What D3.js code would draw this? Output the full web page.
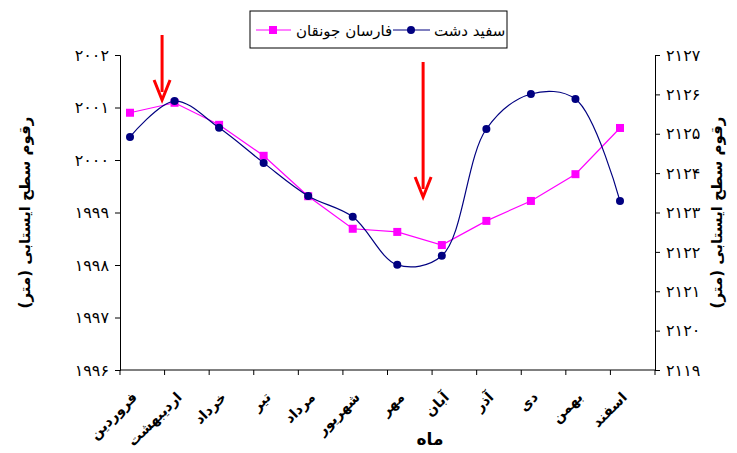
<!DOCTYPE html>
<html>
<head>
<meta charset="utf-8" />
<script src="https://cdn.jsdelivr.net/npm/d3@7"></script>
<style>
body { margin: 0; background: #fff; }
text { font-family: "DejaVu Sans", "Noto Sans", sans-serif; }
</style>
</head>
<body>
<script>
var months = ["فروردین", "اردیبهشت", "خرداد", "تیر", "مرداد", "شهریور", "مهر", "آبان", "آذر", "دی", "بهمن", "اسفند"];
var farsan = [2000.90, 2001.09, 2000.67, 2000.08, 1999.31, 1998.69, 1998.63, 1998.38, 1998.84, 1999.22, 1999.73, 2000.61];
var sefid = [2124.92, 2125.83, 2125.15, 2124.26, 2123.42, 2122.89, 2121.67, 2121.90, 2125.12, 2126.01, 2125.88, 2123.29];
var leftTicks = [1996, 1997, 1998, 1999, 2000, 2001, 2002];
var rightTicks = [2119, 2120, 2121, 2122, 2123, 2124, 2125, 2126, 2127];
// arrow positions in month-index units
var arrows = [{pos: 0.72, y0: 35, y1: 100}, {pos: 6.58, y0: 62, y1: 197}];

var W = 737, H = 453, pLeft = 120, pRight = 655, pTop = 55, pBottom = 370;
function fa(n) { return String(n).replace(/\d/g, function (d) { return "۰۱۲۳۴۵۶۷۸۹"[d]; }); }

var svg = d3.select("body").append("svg").attr("width", W).attr("height", H);

var x = d3.scalePoint().domain(months).range([130, 620]);
var xi = d3.scaleLinear().domain([0, 11]).range([130, 620]);
var yL = d3.scaleLinear().domain([1996, 2002]).range([pBottom, pTop]);
var yR = d3.scaleLinear().domain([2119, 2127]).range([pBottom, pTop]);

svg.append("g").attr("transform", "translate(" + pLeft + ",0)")
    .call(d3.axisLeft(yL).tickValues(leftTicks).tickFormat(fa).tickSize(5))
    .call(function (g) { g.selectAll("text").attr("font-size", 16).attr("dx", -3); });
svg.append("g").attr("transform", "translate(" + pRight + ",0)")
    .call(d3.axisRight(yR).tickValues(rightTicks).tickFormat(fa).tickSize(5))
    .call(function (g) { g.selectAll("text").attr("font-size", 16).attr("dx", 3); });
svg.selectAll(".domain, .tick line").attr("stroke", "#000");

svg.append("line").attr("x1", pLeft).attr("x2", pRight).attr("y1", pBottom).attr("y2", pBottom).attr("stroke", "#000");
svg.append("g").selectAll("line").data(d3.range(13)).enter().append("line")
    .attr("x1", function (d) { return pLeft + (pRight - pLeft) * d / 12; })
    .attr("x2", function (d) { return pLeft + (pRight - pLeft) * d / 12; })
    .attr("y1", pBottom).attr("y2", pBottom + 5).attr("stroke", "#000");

svg.append("g").selectAll("text").data(months).enter().append("text")
    .attr("transform", function (d) { return "translate(" + (x(d) + 8) + "," + (pBottom + 28) + ") rotate(-45)"; })
    .attr("text-anchor", "end").attr("font-size", 14).attr("font-weight", "bold").text(function (d) { return d; });

svg.append("text").attr("x", 430).attr("y", 445).attr("text-anchor", "middle")
    .attr("font-size", 17).attr("font-weight", "bold").text("ماه");

svg.append("text").attr("transform", "translate(30," + ((pTop + pBottom) / 2) + ") rotate(-90)")
    .attr("text-anchor", "middle").attr("font-size", 15).attr("font-weight", "bold").text("رقوم سطح ایستابی (متر)");
svg.append("text").attr("transform", "translate(722," + ((pTop + pBottom) / 2) + ") rotate(-90)")
    .attr("text-anchor", "middle").attr("font-size", 15).attr("font-weight", "bold").text("رقوم سطح ایستابی (متر)");

// pink series, straight
svg.append("path").datum(farsan).attr("fill", "none").attr("stroke", "#ff00ff").attr("stroke-width", 1.2)
    .attr("d", d3.line().x(function (d, i) { return x(months[i]); }).y(function (d) { return yL(d); }));
svg.append("g").selectAll("rect").data(farsan).enter().append("rect")
    .attr("x", function (d, i) { return x(months[i]) - 4; }).attr("y", function (d) { return yL(d) - 4; })
    .attr("width", 8).attr("height", 8).attr("fill", "#ff00ff");

// navy series, smoothed
svg.append("path").datum(sefid).attr("fill", "none").attr("stroke", "#000080").attr("stroke-width", 1.2)
    .attr("d", d3.line().curve(d3.curveCatmullRom.alpha(0.5)).x(function (d, i) { return x(months[i]); }).y(function (d) { return yR(d); }));
svg.append("g").selectAll("circle").data(sefid).enter().append("circle")
    .attr("cx", function (d, i) { return x(months[i]); }).attr("cy", function (d) { return yR(d); })
    .attr("r", 4).attr("fill", "#000080");

// red arrows
var ag = svg.append("g").selectAll("g").data(arrows).enter().append("g");
ag.append("line").attr("x1", function (d) { return xi(d.pos); }).attr("x2", function (d) { return xi(d.pos); })
    .attr("y1", function (d) { return d.y0; }).attr("y2", function (d) { return d.y1 - 8; })
    .attr("stroke", "red").attr("stroke-width", 3);
ag.append("path").attr("fill", "none").attr("stroke", "red").attr("stroke-width", 3)
    .attr("d", function (d) { var cx = xi(d.pos); return "M" + (cx - 8) + "," + (d.y1 - 20) + "L" + cx + "," + d.y1 + "L" + (cx + 8) + "," + (d.y1 - 20); });

// legend
var lg = svg.append("g");
lg.append("rect").attr("x", 250).attr("y", 11).attr("width", 257).attr("height", 37).attr("fill", "#fff").attr("stroke", "#000");
lg.append("line").attr("x1", 256).attr("x2", 291).attr("y1", 30).attr("y2", 30).attr("stroke", "#ff00ff");
lg.append("rect").attr("x", 269).attr("y", 26).attr("width", 8).attr("height", 8).attr("fill", "#ff00ff");
lg.append("text").attr("x", 296).attr("y", 36).attr("font-size", 15).text("فارسان جونقان");
lg.append("line").attr("x1", 393).attr("x2", 430).attr("y1", 30).attr("y2", 30).attr("stroke", "#000080");
lg.append("circle").attr("cx", 411).attr("cy", 30).attr("r", 4).attr("fill", "#000080");
lg.append("text").attr("x", 434).attr("y", 36).attr("font-size", 15).text("سفید دشت");
</script>
</body>
</html>
